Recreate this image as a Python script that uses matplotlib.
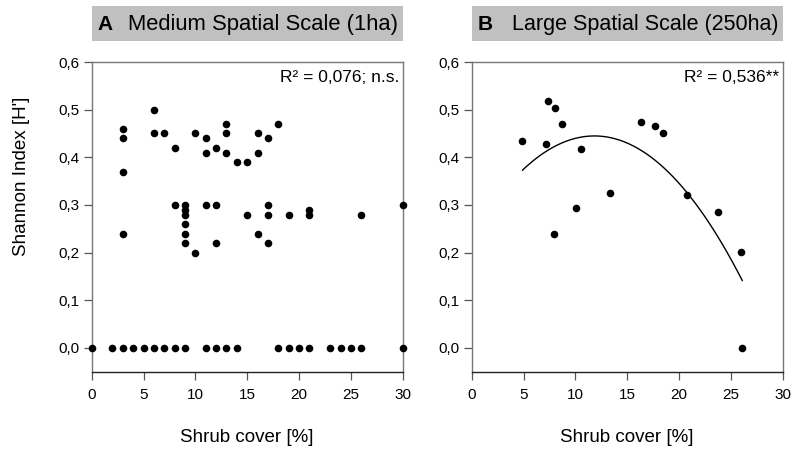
import numpy as np
import matplotlib
matplotlib.use("Agg")
import matplotlib.pyplot as plt
from matplotlib.patches import Rectangle

plt.rcParams['font.family'] = ['Liberation Sans', 'DejaVu Sans']

# ---- Panel A data (medium spatial scale, 1ha) ----
a_x = [0, 2, 3, 4, 5, 6, 7, 8, 9, 11, 12, 13, 14, 18, 19, 20, 21, 23, 24, 25, 26, 30,
       3, 3, 3, 3,
       6, 6,
       7,
       8, 8,
       9, 9, 9, 9, 9, 9,
       10, 10,
       11, 11, 11,
       12, 12, 12,
       13, 13, 13,
       14,
       15, 15,
       16, 16, 16,
       17, 17, 17, 17,
       18,
       19,
       21, 21,
       26,
       30]
a_y = [0.0] * 22 + [
       0.46, 0.44, 0.37, 0.24,
       0.50, 0.45,
       0.45,
       0.42, 0.30,
       0.30, 0.29, 0.28, 0.26, 0.24, 0.22,
       0.45, 0.20,
       0.44, 0.41, 0.30,
       0.42, 0.30, 0.22,
       0.47, 0.45, 0.41,
       0.39,
       0.39, 0.28,
       0.45, 0.41, 0.24,
       0.44, 0.30, 0.28, 0.22,
       0.47,
       0.28,
       0.29, 0.28,
       0.28,
       0.30]

# ---- Panel B data (large spatial scale, 250ha) ----
b_x = [4.9, 7.2, 7.4, 8.0, 8.7, 7.9, 10.5, 10.1, 13.3, 16.3, 17.7, 18.5, 20.8, 23.8, 26.0, 26.1]
b_y = [0.434, 0.429, 0.518, 0.504, 0.470, 0.240, 0.418, 0.293, 0.326, 0.474, 0.466, 0.452,
       0.321, 0.286, 0.201, 0.0]

titles_letter = ['A', 'B']
titles_text = ['Medium Spatial Scale (1ha)', 'Large Spatial Scale (250ha)']
r2_text = ['R\u00b2 = 0,076; n.s.', 'R\u00b2 = 0,536**']
xticks = [0, 5, 10, 15, 20, 25, 30]
yticks = [0.0, 0.1, 0.2, 0.3, 0.4, 0.5, 0.6]
ytick_labels = ['0,0', '0,1', '0,2', '0,3', '0,4', '0,5', '0,6']

fig = plt.figure(figsize=(7.92, 4.49), dpi=100)
W, H = 792, 449
axA = fig.add_axes([91.7 / W, (H - 372.3) / H, 311 / W, 310.3 / H])
axB = fig.add_axes([471.7 / W, (H - 372.3) / H, 311 / W, 310.3 / H])

def style(ax, letter, title, r2, fs):
    ax.set_xlim(0, 30)
    ax.set_ylim(-0.051, 0.6)
    ax.set_xticks(xticks)
    ax.set_xticklabels([str(t) for t in xticks])
    ax.set_yticks(yticks)
    ax.set_yticklabels(ytick_labels)
    ax.tick_params(axis='both', direction='out', length=5.5, width=0.9,
                   color='#555555', labelsize=11, labelcolor='black')
    ax.tick_params(axis='y', pad=3.5)
    ax.tick_params(axis='x', pad=6)
    for s in ['top', 'right', 'left']:
        ax.spines[s].set_color('#777777')
        ax.spines[s].set_linewidth(1.0)
    ax.spines['bottom'].set_color('#222222')
    ax.spines['bottom'].set_linewidth(1.0)
    ax.set_xlabel('Shrub cover [%]', fontsize=13.5)
    ax.xaxis.set_label_coords(0.5, -0.183)
    # title box
    rect = Rectangle((0, 1.068), 1.0, 0.113, transform=ax.transAxes,
                     facecolor='#c0c0c0', edgecolor='none', clip_on=False)
    ax.add_patch(rect)
    ax.text(0.020, 1.122, letter, transform=ax.transAxes, fontsize=15,
            fontweight='bold', ha='left', va='center')
    ax.text(0.118 if letter == 'A' else 0.128, 1.122, title, transform=ax.transAxes,
            fontsize=fs, ha='left', va='center')
    ax.text(0.99, 0.975, r2, transform=ax.transAxes, fontsize=12.5,
            ha='right', va='top')

style(axA, titles_letter[0], titles_text[0], r2_text[0], 15.8)
style(axB, titles_letter[1], titles_text[1], r2_text[1], 15.5)

axA.scatter(a_x, a_y, s=30, color='black', zorder=3, clip_on=False, linewidths=0)
axB.scatter(b_x, b_y, s=30, color='black', zorder=3, clip_on=False, linewidths=0)

# quadratic regression for panel B
coef = np.polyfit(b_x, b_y, 2)
xx = np.linspace(min(b_x), max(b_x), 200)
axB.plot(xx, np.polyval(coef, xx), color='black', lw=1.0)

axA.set_ylabel("Shannon Index [H']", fontsize=13.5)
axA.yaxis.set_label_coords(-0.225, 0.633)
axA.yaxis.label.set_va('center')

fig.savefig('out.png', dpi=100)
